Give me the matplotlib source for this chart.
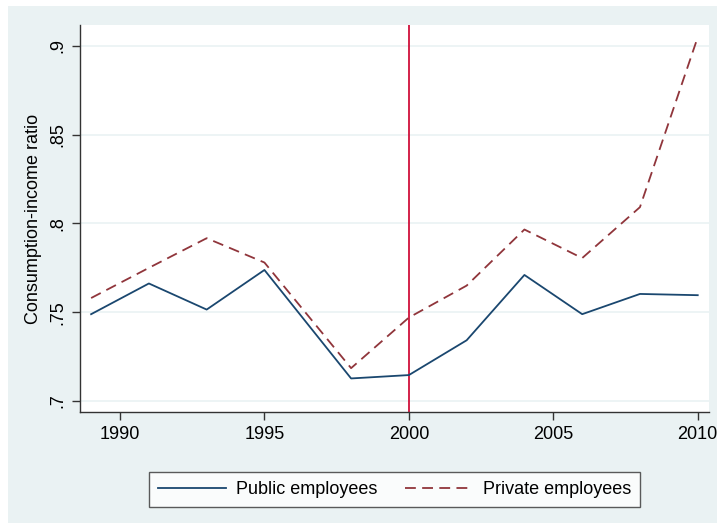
import matplotlib.pyplot as plt
from matplotlib.patches import Rectangle

plt.rcParams['font.family'] = ['Liberation Sans', 'DejaVu Sans']

years = [1989, 1991, 1993, 1995, 1998, 2000, 2002, 2004, 2006, 2008, 2010]
public = [0.7489, 0.7662, 0.7515, 0.7738, 0.7127, 0.7146, 0.7342, 0.7710, 0.7489, 0.7603, 0.7596]
private = [0.758, 0.775, 0.7917, 0.778, 0.7185, 0.747, 0.765, 0.7966, 0.7805, 0.8092, 0.9049]
xticks = [1990, 1995, 2000, 2005, 2010]
yticks = [0.7, 0.75, 0.8, 0.85, 0.9]
ytick_labels = ['.7', '.75', '.8', '.85', '.9']

W, H = 718, 524
fig = plt.figure(figsize=(W / 100, H / 100), dpi=100)
fig.patch.set_facecolor('white')
# Stata-style outer band, kept behind the axes
band = Rectangle((8 / W, 1 - 523 / H), (717 - 8) / W, (523 - 6) / H,
                 transform=fig.transFigure, facecolor='#eaf2f3',
                 edgecolor='none', zorder=-10)
fig.add_artist(band)

ax = fig.add_axes([80 / W, 1 - 412 / H, (709 - 80) / W, (412 - 25) / H])
ax.set_facecolor('white')

for y in yticks:
    ax.axhline(y, color='#eaf2f3', lw=1.2, zorder=1)

ax.axvline(2000, color='#d0103a', lw=1.3, zorder=2)
ax.plot(years, public, color='#1a476f', lw=1.3, label='Public employees', zorder=3)
ax.plot(years, private, color='#90353b', lw=1.3, ls=(0, (6, 3.5)),
        label='Private employees', zorder=3)

ax.set_xlim(1988.615, 2010.39)
ax.set_ylim(0.6938, 0.9118)
ax.set_xticks(xticks)
ax.set_yticks(yticks)
ax.set_yticklabels(ytick_labels, rotation=90, va='center')
ax.tick_params(axis='both', direction='out', length=6, width=1, color='#333333',
               labelsize=13, pad=4)
ax.set_ylabel('Consumption-income ratio', fontsize=13, labelpad=5)

for s in ['top', 'right']:
    ax.spines[s].set_visible(False)
for s in ['left', 'bottom']:
    ax.spines[s].set_color('#333333')
    ax.spines[s].set_linewidth(1)

leg = ax.legend(loc='center', bbox_to_anchor=(0.5, -0.2), ncol=2, fontsize=13,
                frameon=True, fancybox=False, handlelength=3.8, columnspacing=1.5,
                borderpad=0.5, handletextpad=0.55)
leg.get_frame().set_edgecolor('#333333')
leg.get_frame().set_linewidth(1)

fig.savefig('out.png', dpi=100, facecolor=fig.get_facecolor())
